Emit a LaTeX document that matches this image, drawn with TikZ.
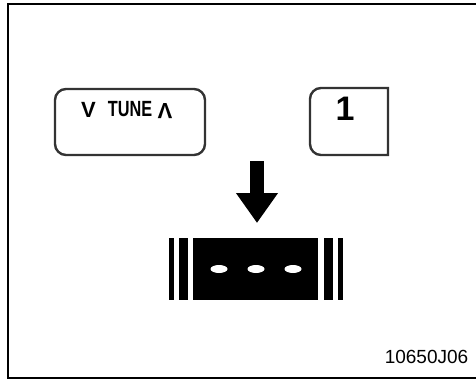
\documentclass[tikz,border=0pt]{standalone}
\usepackage{fontspec}
\setmainfont{Liberation Sans}
\usetikzlibrary{arrows.meta, positioning, shapes.geometric}

\begin{document}
\begin{tikzpicture}[x=1pt,y=-1pt]

\tikzset{button/.style = {draw=black!80, line width=2.4pt, rounded corners=11pt}}
\tikzset{keytext/.style = {font=\bfseries\fontsize{22}{22}\selectfont, inner sep=0pt}}
\tikzset{bar/.style = {fill=black, draw=none}}
\tikzset{dot/.style = {shape=ellipse, fill=white, inner sep=0pt, minimum width=17pt, minimum height=8pt}}
\useasboundingbox (0,0) rectangle (476,385);
% frame
\draw[line width=2pt] (8,4) rectangle (490,378);
% buttons
\node[button, minimum width=150pt, minimum height=66pt, inner sep=0pt] (tune) at (130,122) {};
\node[keytext] (down) at (88.5,109.5) {V};
\node[keytext, xscale=0.74] (tunetext) at (130,109.5) {TUNE};
\node[keytext, rotate=180] (up) at (165,111) {V};
\node[font=\bfseries\fontsize{34}{34}\selectfont, inner sep=0pt] (one) at (345,109) {1};
\coordinate (onetl) at (310,88);
\coordinate (onebr) at (388,155);
\draw[button] (onetl -| onebr) -- (onetl) -- (onetl |- onebr) [sharp corners] -- (onebr) -- cycle;
% arrow
\coordinate (arrowtop) at (257,161);
\coordinate (arrowtip) at (257,223);
\draw[line width=14pt, -{Triangle[width=40pt,length=30pt]}] (arrowtop) -- (arrowtip);
% display
\node[bar, minimum width=125pt, minimum height=62pt, inner sep=0pt] (disp) at (255.5,269) {};
\fill[bar] (169,238) rectangle (174,300);
\fill[bar] (179,238) rectangle (188,300);
\fill[bar] (324,238) rectangle (333,300);
\fill[bar] (338,238) rectangle (343,300);
\foreach \x [count=\i] in {219,256,293}
  \node[dot] (dot\i) at (\x,269) {};
% code
\node[font=\fontsize{19}{19}\selectfont, inner sep=0pt] (code) at (426.5,357) {10650J06};
\end{tikzpicture}
\end{document}
